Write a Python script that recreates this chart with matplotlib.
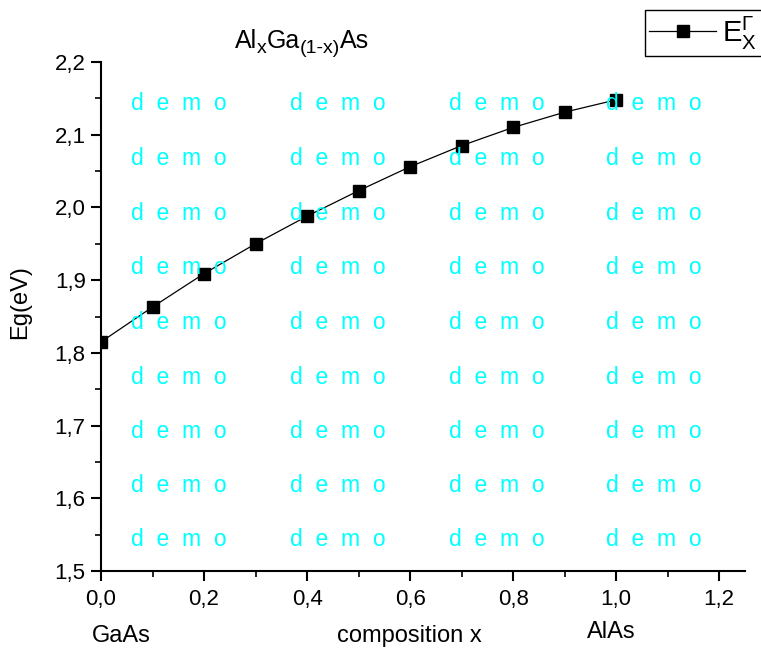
import matplotlib

matplotlib.use("Agg")
import matplotlib.pyplot as plt
from matplotlib.ticker import FuncFormatter, MultipleLocator

plt.rcParams["font.family"] = ["Liberation Sans", "DejaVu Sans"]
plt.rcParams["mathtext.fontset"] = "custom"
plt.rcParams["mathtext.rm"] = "Liberation Sans"
plt.rcParams["mathtext.it"] = "Liberation Sans"

# composition x and band gap
composition = [0.0, 0.1, 0.2, 0.3, 0.4, 0.5, 0.6, 0.7, 0.8, 0.9, 1.0]
band_gap = [1.815, 1.863, 1.909, 1.950, 1.988, 2.023, 2.056, 2.085, 2.110, 2.131, 2.148]

# title pieces: (text, is_subscript)
title_parts = [("Al", False), ("x", True), ("Ga", False), ("(1-x)", True), ("As", False)]

W, H = 761, 655
fig = plt.figure(figsize=(W / 100, H / 100), dpi=100)
ax = fig.add_axes([101 / W, 1 - 571 / H, 644 / W, 509 / H])

(line,) = ax.plot(composition, band_gap, color="black", lw=0.9,
                  marker="s", ms=9, mec="black", mfc="black", zorder=3)

ax.set_xlim(0, 1.25)
ax.set_ylim(1.5, 2.2)
ax.xaxis.set_major_locator(MultipleLocator(0.2))
ax.xaxis.set_minor_locator(MultipleLocator(0.1))
ax.yaxis.set_major_locator(MultipleLocator(0.1))
ax.yaxis.set_minor_locator(MultipleLocator(0.05))
comma = FuncFormatter(lambda v, pos: f"{v:.1f}".replace(".", ","))
ax.xaxis.set_major_formatter(comma)
ax.yaxis.set_major_formatter(comma)

for side in ("top", "right"):
    ax.spines[side].set_visible(False)
for side in ("left", "bottom"):
    ax.spines[side].set_linewidth(1.5)
ax.tick_params(which="major", direction="out", length=7, width=1.5, labelsize=16, pad=4)
ax.tick_params(which="minor", direction="out", length=4, width=1.2)
ax.tick_params(axis="x", which="major", pad=6)

# title built from pieces so the subscripts keep a readable size
renderer = fig.canvas.get_renderer()
x_px = 235
for text, sub in title_parts:
    t = fig.text(x_px / W, 1 - (53 if sub else 48) / H, text,
                 ha="left", va="baseline", fontsize=14 if sub else 18)
    x_px += t.get_window_extent(renderer).width

fig.text(20 / W, 1 - 302 / H, "Eg(eV)", rotation=90, ha="center", va="center", fontsize=17)
fig.text(121 / W, 1 - 636 / H, "GaAs", ha="center", va="center", fontsize=17)
fig.text(409 / W, 1 - 636 / H, "composition x", ha="center", va="center", fontsize=17)
fig.text(611 / W, 1 - 632 / H, "AlAs", ha="center", va="center", fontsize=17)

# demo watermark grid
for col in (131, 290, 449, 606):
    for row in (104, 158, 213, 267, 322, 377, 431, 486, 540):
        fig.text(col / W, 1 - row / H, "d  e  m  o", color="cyan",
                 ha="left", va="center", fontsize=16.5, zorder=10)

leg = ax.legend([line], [r"E$_{\mathrm{X}}^{\Gamma}$"], loc="upper left",
                bbox_to_anchor=(645 / W, 1 - 10 / H), bbox_transform=fig.transFigure,
                borderaxespad=0, fontsize=21, handlelength=2.3, handletextpad=0.2,
                borderpad=0.15, fancybox=False, framealpha=1)
leg.get_frame().set_edgecolor("black")
leg.get_frame().set_linewidth(1.0)

fig.savefig("out.png", dpi=100)
